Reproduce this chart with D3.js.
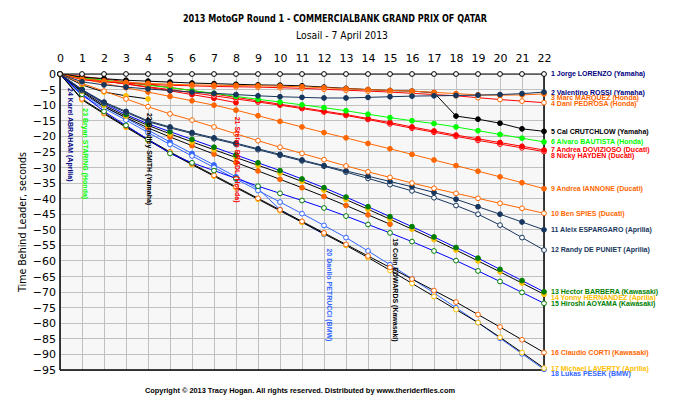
<!DOCTYPE html>
<html><head><meta charset="utf-8">
<script src="https://cdn.jsdelivr.net/npm/d3@7"></script>
<style>body{margin:0;background:#fff}svg{display:block}</style>
</head><body><svg id="c" width="685" height="406"></svg>
<script>
// ---------- DATA ----------
const xTickLabels = d3.range(0, 23);
const yTickLabels = d3.range(0, -96, -5);
const riderNames = [
  "1 Jorge LORENZO (Yamaha)","2 Valentino ROSSI (Yamaha)","3 Marc MARQUEZ (Honda)","4 Dani PEDROSA (Honda)",
  "5 Cal CRUTCHLOW (Yamaha)","6 Alvaro BAUTISTA (Honda)","7 Andrea DOVIZIOSO (Ducati)","8 Nicky HAYDEN (Ducati)",
  "9 Andrea IANNONE (Ducati)","10 Ben SPIES (Ducati)","11 Aleix ESPARGARO (Aprilia)","12 Randy DE PUNIET (Aprilia)",
  "13 Hector BARBERA (Kawasaki)","14 Yonny HERNANDEZ (Aprilia)","15 Hiroshi AOYAMA (Kawasaki)","16 Claudio CORTI (Kawasaki)",
  "17 Michael LAVERTY (Aprilia)","18 Lukas PESEK (BMW)","19 Colin EDWARDS (Kawasaki)","20 Danilo PETRUCCI (BMW)",
  "21 Stefan BRADL (Honda)","22 Bradley SMITH (Yamaha)","23 Bryan STARING (Honda)","24 Karel ABRAHAM (Aprilia)"
];
// time behind leader (s) at end of each lap 0..n
const lorenzo  = [0,0,0,0,0,0,0,0,0,0,0,0,0,0,0,0,0,0,0,0,0,0,0];
const rossi    = [0,-2.5,-3.5,-4.2,-4.8,-5.3,-5.8,-6.2,-6.6,-7.0,-7.3,-7.5,-7.7,-7.7,-7.5,-7.3,-7.1,-7.0,-6.9,-6.8,-6.6,-6.3,-5.8];
const marquez  = [0,-1.5,-2.2,-2.7,-3.0,-3.3,-3.5,-3.6,-3.7,-3.8,-3.9,-4.1,-4.4,-4.7,-5.0,-5.3,-5.5,-5.9,-6.3,-6.7,-6.8,-6.7,-6.4];
const pedrosa  = [0,-1.8,-2.5,-3.0,-3.3,-3.6,-3.8,-4.0,-4.1,-4.2,-4.4,-4.6,-4.9,-5.2,-5.5,-5.8,-6.2,-6.6,-7.0,-7.6,-8.2,-8.7,-9.2];
const crutchlow= [0,-1.0,-1.5,-2.0,-2.3,-2.6,-2.9,-3.1,-3.3,-3.5,-3.6,-3.8,-4.2,-4.6,-5.0,-5.3,-5.5,-6.0,-13.5,-14.5,-15.8,-17.6,-18.4];
const bautista = [0,-1.2,-2.0,-2.8,-3.6,-4.4,-5.3,-6.2,-7.2,-8.1,-9.0,-9.9,-10.8,-11.8,-12.9,-14.0,-15.0,-15.9,-17.0,-18.2,-19.4,-20.6,-21.8];
const dovizioso= [0,-0.8,-1.6,-2.5,-3.4,-4.3,-5.3,-6.4,-7.5,-8.6,-9.7,-10.8,-11.9,-13.0,-14.3,-15.6,-17.0,-18.3,-19.6,-20.8,-22.0,-23.2,-24.4];
const hayden   = [0,-1.4,-2.3,-3.2,-4.1,-5.0,-6.0,-7.0,-8.0,-9.0,-10.0,-11.1,-12.2,-13.3,-14.6,-16.0,-17.4,-18.7,-20.0,-21.3,-22.5,-23.7,-24.9];
const iannone  = [0,-1.6,-3.0,-4.4,-5.8,-7.2,-8.6,-10.0,-11.6,-13.4,-15.2,-17.0,-18.8,-20.5,-22.3,-24.0,-25.8,-27.6,-29.4,-31.2,-33.0,-34.9,-36.8];
const spies    = [0,-3.0,-5.5,-8.0,-10.5,-12.8,-14.8,-17.0,-19.2,-21.4,-23.5,-25.5,-27.5,-29.5,-31.4,-33.2,-35.0,-36.7,-38.3,-39.9,-41.5,-43.1,-44.7];
const espargaro= [0,-5.0,-9.0,-12.0,-15.0,-17.0,-18.8,-20.5,-22.2,-24.0,-25.8,-27.6,-29.4,-31.1,-32.8,-34.5,-36.2,-38.0,-40.2,-42.6,-45.0,-47.5,-50.0];
const depuniet = [0,-5.3,-9.3,-12.3,-15.3,-17.3,-19.1,-20.8,-22.5,-24.3,-26.1,-27.9,-29.6,-31.5,-33.5,-35.5,-37.5,-39.7,-42.2,-45.0,-48.5,-52.5,-56.5];
const barbera  = [0,-5.0,-9.5,-13.0,-16.0,-18.5,-21.0,-23.5,-26.0,-28.5,-31.0,-33.7,-36.5,-39.5,-42.6,-45.8,-49.0,-52.3,-55.7,-59.1,-62.7,-66.3,-69.9];
const hernandez= [0,-5.5,-10.0,-13.5,-16.5,-19.2,-21.8,-24.3,-26.8,-29.3,-31.8,-34.5,-37.3,-40.3,-43.4,-46.6,-49.8,-53.1,-56.5,-60.0,-63.5,-67.1,-70.7];
const aoyama   = [0,-6.5,-12.0,-16.5,-21.0,-25.5,-28.5,-31.0,-33.5,-36.0,-38.3,-40.6,-43.0,-45.6,-48.3,-51.0,-53.8,-56.8,-59.9,-63.2,-66.6,-70.1,-73.6];
const corti    = [0,-8.0,-12.5,-16.8,-21.0,-25.0,-28.8,-32.5,-36.2,-39.9,-43.6,-47.3,-51.0,-54.7,-58.4,-62.1,-65.8,-69.5,-73.2,-77.2,-81.2,-85.3,-89.4];
const laverty  = [0,-8.3,-12.8,-17.1,-21.3,-25.3,-29.1,-32.8,-36.5,-40.2,-43.9,-47.6,-51.3,-55.0,-58.9,-63.0,-67.2,-71.4,-75.6,-79.8,-84.5,-89.4,-94.4];
const pesek    = [0,-7.0,-11.0,-14.8,-18.8,-22.6,-26.3,-30.0,-33.7,-37.4,-41.1,-44.8,-48.6,-52.5,-56.8,-61.2,-65.7,-70.3,-75.0,-79.8,-84.8,-89.8,-94.8];
const edwards  = [0,-5.8,-10.5,-14.0,-17.3,-20.2,-23.0,-25.7,-28.4,-31.1,-33.8,-36.5,-39.3,-42.2,-45.2,-48.2];
const petrucci = [0,-6.5,-10.5,-14.2,-18.0,-21.8,-25.5,-29.2,-33.0,-36.8,-43.5,-47.5,-51.5];
const bradl    = [0,-1.2,-2.2,-3.2,-4.3,-5.4,-6.6,-7.8,-9.2];
const smith    = [0,-3.5,-5.8,-7.0,-8.0];
const staring  = [0,-6.5];
const abraham  = [0];
const retiredLap = [15.2, 12.2, 8.0, 4.0, 1.1, 0.4]; // riders 19..24

const seriesValues = [lorenzo,rossi,marquez,pedrosa,crutchlow,bautista,dovizioso,hayden,iannone,spies,
  espargaro,depuniet,barbera,hernandez,aoyama,corti,laverty,pesek,edwards,petrucci,bradl,smith,staring,abraham];

// ---------- STYLE ----------
const NAVY="#17365D", ORANGE="#FF6600", RED="#FF0000", LIME="#00FF00", DKGREEN="#008000", GOLD="#FFC000", BLUE="#3366FF";
const styles = [
  {fill:"#fff",stroke:"#000",line:"#000",label:"#000080"},
  {fill:NAVY,stroke:NAVY,line:NAVY,label:"#000080"},
  {fill:ORANGE,stroke:ORANGE,line:ORANGE,label:ORANGE},
  {fill:"#fff",stroke:ORANGE,line:RED,label:ORANGE},
  {fill:"#000",stroke:"#000",line:"#000",label:"#000"},
  {fill:LIME,stroke:LIME,line:LIME,label:LIME},
  {fill:RED,stroke:RED,line:RED,label:RED},
  {fill:"#fff",stroke:RED,line:RED,label:RED},
  {fill:ORANGE,stroke:ORANGE,line:ORANGE,label:ORANGE},
  {fill:"#fff",stroke:ORANGE,line:ORANGE,label:ORANGE},
  {fill:NAVY,stroke:NAVY,line:NAVY,label:NAVY},
  {fill:"#fff",stroke:NAVY,line:NAVY,label:NAVY},
  {fill:DKGREEN,stroke:DKGREEN,line:"#0000FF",label:DKGREEN},
  {fill:GOLD,stroke:GOLD,line:"#000",label:GOLD},
  {fill:"#fff",stroke:DKGREEN,line:"#0000FF",label:DKGREEN},
  {fill:"#fff",stroke:ORANGE,line:"#000",label:ORANGE},
  {fill:"#fff",stroke:GOLD,line:"#000",label:GOLD},
  {fill:"#fff",stroke:BLUE,line:BLUE,label:BLUE},
  {fill:ORANGE,stroke:ORANGE,line:"#000",label:"#000"},
  {fill:BLUE,stroke:BLUE,line:BLUE,label:BLUE},
  {fill:RED,stroke:RED,line:RED,label:RED},
  {fill:GOLD,stroke:GOLD,line:"#000",label:"#000"},
  {fill:LIME,stroke:LIME,line:LIME,label:LIME},
  {fill:NAVY,stroke:NAVY,line:NAVY,label:"#000080"}
];

// ---------- CHART ----------
const svg = d3.select("#c");
const x = d3.scaleLinear().domain([0,22]).range([60,544]);
const y = d3.scaleLinear().domain([0,-95]).range([74,370]);
const FONT = "Tahoma, 'DejaVu Sans', sans-serif";
const SMALL = "'Liberation Sans', Arial, sans-serif";

svg.append("rect").attr("x",x(0)).attr("y",y(0)).attr("width",x(22)-x(0)).attr("height",y(-95)-y(0)).attr("fill","#F7F7F7");

// grid
const grid = svg.append("g").attr("stroke","#C0C0C0").attr("stroke-width",1).attr("shape-rendering","crispEdges");
xTickLabels.forEach(t=>grid.append("line").attr("x1",x(t)).attr("x2",x(t)).attr("y1",y(0)).attr("y2",y(-95)));
yTickLabels.forEach(t=>grid.append("line").attr("x1",x(0)).attr("x2",x(22)).attr("y1",y(t)).attr("y2",y(t)));

// axes (top labels, left labels)
const xAxis = d3.axisTop(x).tickValues(xTickLabels).tickSize(0).tickPadding(0).tickFormat(d3.format("d"));
const gx = svg.append("g").attr("transform",`translate(0,62)`).call(xAxis);
gx.select(".domain").remove();
gx.selectAll("text").attr("font-family",FONT).attr("font-size","11px").attr("fill","#000");
const yAxis = d3.axisLeft(y).tickValues(yTickLabels).tickSize(0).tickPadding(0).tickFormat(d3.format("d"));
const gy = svg.append("g").attr("transform",`translate(56,0)`).call(yAxis);
gy.select(".domain").remove();
gy.selectAll("text").attr("font-family",FONT).attr("font-size","11px").attr("fill","#000");

// frame lines
const fr = svg.append("g").attr("stroke","#000").attr("stroke-width",1.5);
fr.append("line").attr("x1",x(0)).attr("x2",x(0)).attr("y1",y(0)).attr("y2",y(-95));
fr.append("line").attr("x1",x(0)).attr("x2",x(22)).attr("y1",y(-95)).attr("y2",y(-95));
fr.append("line").attr("x1",x(22)).attr("x2",x(22)).attr("y1",y(0)).attr("y2",y(-95));

// series (drawn from last to first so leader is on top)
const line = d3.line().x((d,i)=>x(i)).y(d=>y(d));
for (let k = seriesValues.length-1; k>=0; k--) {
  const vals = seriesValues[k], st = styles[k];
  const g = svg.append("g");
  g.append("path").attr("d",line(vals)).attr("fill","none").attr("stroke",st.line).attr("stroke-width",1);
  g.selectAll("circle").data(vals).join("circle")
    .attr("cx",(d,i)=>x(i)).attr("cy",d=>y(d)).attr("r",2.4)
    .attr("fill",st.fill).attr("stroke",st.stroke).attr("stroke-width",1);
}

// right-hand labels for finishers (de-overlapped)
const fin = seriesValues.slice(0,18).map((v,i)=>({i, yy:y(v[v.length-1])}));
fin.sort((a,b)=>a.yy-b.yy);
for (let j=1;j<fin.length;j++) if (fin[j].yy < fin[j-1].yy+5.8) fin[j].yy = fin[j-1].yy+5.8;
fin.forEach(f=>{
  svg.append("text").attr("x",551).attr("y",f.yy).attr("dy","0.35em")
    .attr("font-family",SMALL).attr("font-size","7px").attr("font-weight","bold")
    .attr("fill",styles[f.i].label).text(riderNames[f.i]);
});

// rotated labels for retirements
seriesValues.slice(18).forEach((v,j)=>{
  const k = 18+j;
  const lx = x(retiredLap[j]), ly = y(v[v.length-1]) + 14;
  svg.append("text").attr("transform",`translate(${lx-1},${ly}) rotate(90)`)
    .attr("font-family",SMALL).attr("font-size","7px").attr("font-weight","bold")
    .attr("fill",styles[k].label).text(riderNames[k]);
});

// titles
svg.append("text").attr("x",335).attr("y",22).attr("text-anchor","middle").attr("font-family",FONT)
  .attr("font-size","11px").attr("font-weight","bold").attr("textLength",304).attr("lengthAdjust","spacingAndGlyphs")
  .text("2013 MotoGP Round 1 - COMMERCIALBANK GRAND PRIX OF QATAR");
svg.append("text").attr("x",342).attr("y",39).attr("text-anchor","middle").attr("font-family",FONT)
  .attr("font-size","11px").attr("textLength",92).attr("lengthAdjust","spacingAndGlyphs").text("Losail - 7 April 2013");
svg.append("text").attr("transform","translate(26,222) rotate(-90)").attr("text-anchor","middle").attr("font-family",FONT)
  .attr("font-size","11px").attr("textLength",140).attr("lengthAdjust","spacingAndGlyphs").text("Time Behind Leader, seconds");
svg.append("text").attr("x",300).attr("y",393).attr("text-anchor","middle").attr("font-family",SMALL)
  .attr("font-size","6.5px").attr("font-weight","bold").attr("textLength",310).attr("lengthAdjust","spacingAndGlyphs")
  .text("Copyright \u00A9 2013 Tracy Hogan. All rights reserved. Distributed by www.theriderfiles.com");
</script></body></html>
